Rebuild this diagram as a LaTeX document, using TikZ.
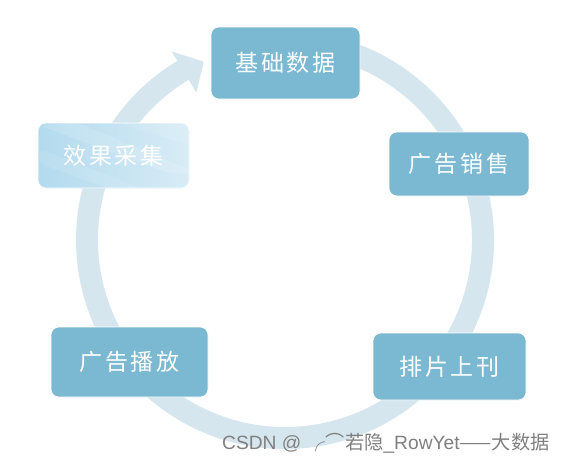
\documentclass[tikz,border=0pt]{standalone}
\usepackage{fontspec}
\setmainfont{Liberation Sans}
\newfontfamily\cjk[LetterSpace=12]{Noto Sans CJK SC}
\newfontfamily\cjkplain{Noto Sans CJK SC}
\definecolor{boxblue}{RGB}{123,184,210}
\definecolor{ringblue}{RGB}{213,230,239}
\definecolor{lightA}{RGB}{178,218,238}
\definecolor{lightB}{RGB}{216,236,246}
\definecolor{wmgray}{RGB}{128,128,128}
\begin{document}
\begin{tikzpicture}[x=1pt,y=-1pt,
  stagebox/.style={draw=white, line width=0.6pt, rounded corners=8pt, fill=boxblue, inner sep=0pt},
  stagetext/.style={text=white, font=\cjk\fontsize{23}{23}\selectfont}]
\useasboundingbox (0,0) rectangle (564,466);
\fill[white] (0,0) rectangle (564,466);
\coordinate (c) at (285,240);
% ring with arrow
\draw[ringblue, line width=22pt] ([shift={(-100:198)}]c) arc[start angle=-100, end angle=240, radius=198];
\fill[ringblue] ([shift={(239:172)}]c) -- ([shift={(239:220)}]c) -- ([shift={(245.5:196)}]c) -- cycle;
% stages
\node[stagebox, stagetext, minimum width=149pt, minimum height=72pt] (n1) at (285.5,63) {基础数据};
\node[stagebox, stagetext, minimum width=140pt, minimum height=64pt] (n2) at (459,164) {广告销售};
\node[stagebox, stagetext, minimum width=153pt, minimum height=67pt] (n3) at (449.5,366.5) {排片上刊};
\node[stagebox, stagetext, minimum width=157pt, minimum height=70pt] (n4) at (129.5,362) {广告播放};
\node[stagebox, stagetext, minimum width=151pt, minimum height=65pt, left color=lightA, right color=lightB,
  path picture={
    \fill[white, opacity=0.14] (path picture bounding box.north west) ++(0,2) -- ++(40,-2) -- ++(120,50) -- ++(-30,0) -- cycle;
    \fill[white, opacity=0.10] (path picture bounding box.north west) ++(0,25) -- ++(0,15) -- ++(110,40) -- ++(30,0) -- cycle;
    \fill[white, opacity=0.10] (path picture bounding box.north west) ++(80,0) -- ++(80,0) -- ++(0,25) -- cycle;
  }] (n5) at (113.5,155.5) {效果采集};
% watermark
\node[anchor=west, inner sep=0pt, text=wmgray, font=\fontsize{19.2}{19.2}\selectfont] (wm) at (222,443) {CSDN @ {\cjkplain ╭⌒若隐}\_RowYet{\cjkplain ——大数据}};
\end{tikzpicture}
\end{document}
